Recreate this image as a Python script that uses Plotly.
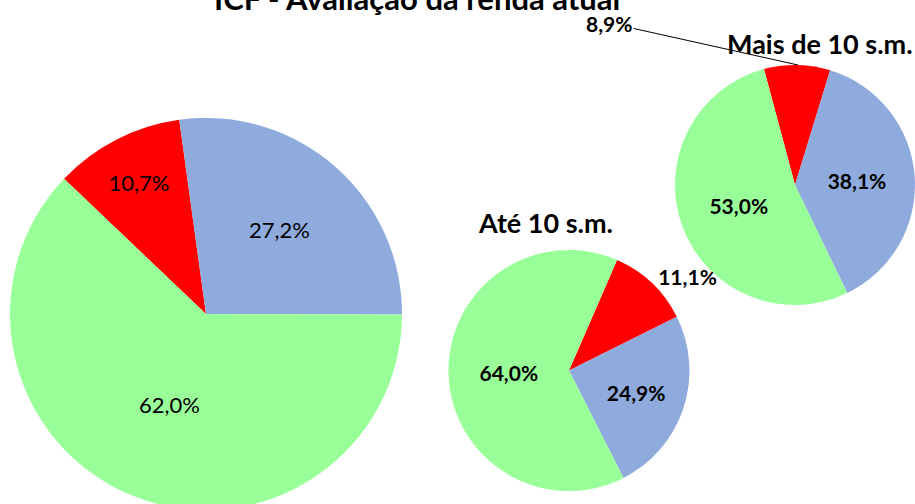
import plotly.graph_objects as go

categories = ["Pior", "Igual", "Melhor"]
colors = ["#FF0000", "#8FAADC", "#99FF99"]

total_values = [10.7, 27.2, 62.0]
ate10_values = [11.1, 24.9, 64.0]
mais10_values = [8.9, 38.1, 53.0]

title_text = "ICF - Avaliação da renda atual"
ate10_title = "Até 10 s.m."
mais10_title = "Mais de 10 s.m."

W, H = 915, 510


def fmt(vals):
    return [f"{v:.1f}%".replace(".", ",") for v in vals]


def px_dom(x0, x1, ytop, ybot):
    return dict(x=[x0 / W, x1 / W], y=[(H - ybot) / H, (H - ytop) / H])


def py(y):
    return (H - y) / H


fig = go.Figure()

fig.add_trace(go.Pie(
    labels=categories, values=total_values, text=fmt(total_values),
    textinfo="text", sort=False, direction="clockwise", rotation=-46.4,
    marker=dict(colors=colors), textposition="inside",
    insidetextorientation="horizontal",
    textfont=dict(family="Lato", size=22, color="black"),
    domain=px_dom(10, 402, 118, 510), showlegend=False, hoverinfo="label+text",
))

fig.add_trace(go.Pie(
    labels=categories, values=ate10_values, text=fmt(ate10_values),
    textinfo="text", sort=False, direction="clockwise", rotation=23.5,
    marker=dict(colors=colors), textposition=["outside", "inside", "inside"],
    insidetextorientation="horizontal",
    textfont=dict(family="Lato", size=21, color="black", weight="bold"),
    domain=px_dom(448.5, 689.5, 250, 491), showlegend=False, hoverinfo="label+text",
))

mais_text = fmt(mais10_values)
fig.add_trace(go.Pie(
    labels=categories, values=mais10_values, text=[""] + mais_text[1:],
    textinfo="text", sort=False, direction="clockwise", rotation=-15,
    marker=dict(colors=colors), textposition=["none", "inside", "inside"],
    insidetextorientation="horizontal",
    textfont=dict(family="Lato", size=21, color="black", weight="bold"),
    domain=px_dom(675, 915, 65, 305), showlegend=False, hoverinfo="label+text",
))

fig.update_layout(
    width=W, height=H, margin=dict(l=0, r=0, t=0, b=0),
    paper_bgcolor="white", plot_bgcolor="white",
    font=dict(family="Lato", color="black"),
    annotations=[
        dict(text=f"<b>{title_text}</b>", x=417 / W, y=1, xref="paper", yref="paper",
             xanchor="center", yanchor="bottom", yshift=-19, showarrow=False,
             font=dict(size=31, family="Lato")),
        dict(text=f"<b>{ate10_title}</b>", x=545 / W, y=py(222), xref="paper", yref="paper",
             xanchor="center", yanchor="middle", showarrow=False,
             font=dict(size=27, family="Lato")),
        dict(text=f"<b>{mais10_title}</b>", x=820 / W, y=py(43), xref="paper", yref="paper",
             xanchor="center", yanchor="middle", showarrow=False,
             font=dict(size=27, family="Lato")),
        dict(text=f"<b>{mais_text[0]}</b>", x=798 / W, y=py(65), xref="paper", yref="paper",
             showarrow=True, arrowhead=0, arrowwidth=1, arrowcolor="black",
             ax=-189, ay=-42, font=dict(size=21, family="Lato")),
    ],
)

fig.write_html(
    "out.html",
    config={"displayModeBar": False},
    post_script="document.documentElement.style.overflow='hidden';"
                "document.body.style.margin='0';document.body.style.overflow='hidden';",
)
